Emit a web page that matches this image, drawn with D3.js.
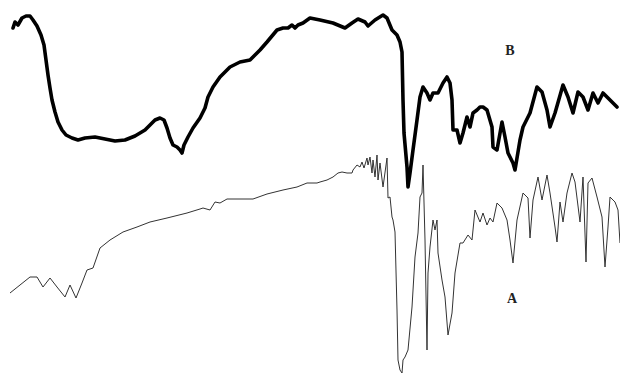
<!DOCTYPE html>
<html><head><meta charset="utf-8">
<script src="https://cdn.jsdelivr.net/npm/d3@7"></script>
<style>html,body{margin:0;padding:0;background:#fff;}svg{display:block;}</style>
</head><body>
<div id="chart"></div>
<script>
// Spectrum B (upper, thick): position and absorbance-like depth
const bX = [13,15,18,22,26,30,33,37,41,44,46,48,50,52,55,58,62,66,72,78,85,95,105,115,125,135,145,150,155,160,164,167,170,173,177,180,182,184,188,193,200,205,208,213,220,230,240,250,260,267,277,283,288,292,295,298,303,310,320,333,345,352,358,365,368,375,383,387,392,397,400,402,403,404,407,408,410,413,417,420,423,427,430,433,438,443,447,450,452,453,457,460,463,467,470,473,477,480,483,487,492,493,497,502,505,508,513,515,520,523,530,537,542,547,550,555,563,568,573,578,583,588,593,598,603,608,613,617];
const bY = [28,22,25,18,16,16,20,26,35,45,60,75,88,100,112,122,130,135,138,140,138,137,139,141,140,136,130,125,120,118,120,128,138,145,147,150,153,145,137,128,118,108,97,87,77,67,62,60,50,42,30,28,28,25,28,25,23,18,20,23,28,23,19,22,26,20,15,18,30,35,42,52,100,133,167,187,173,150,120,97,87,93,100,93,93,83,77,83,100,130,130,143,133,117,127,113,110,107,107,110,127,147,150,122,137,153,163,170,140,127,113,87,92,110,127,113,85,97,113,92,97,110,93,103,93,98,103,107];
// Spectrum A (lower, thin)
const aX = [10,20,30,37,43,50,57,65,70,76,82,87,93,100,110,123,137,150,167,187,200,203,210,215,220,227,240,253,267,283,297,307,317,320,327,333,338,342,347,352,353,357,360,362,364,367,368,370,372,373,375,377,378,380,383,387,388,390,392,393,395,397,398,400,402,403,405,408,412,415,418,420,422,423,425,427,428,430,433,435,437,438,442,445,448,452,455,460,463,468,472,475,480,483,487,490,493,497,502,507,510,513,517,523,528,530,533,538,542,547,550,555,557,560,563,567,572,575,580,583,586,588,592,597,602,605,608,610,615,618,620];
const aY = [293,285,277,277,287,278,287,297,285,298,283,270,268,248,240,232,227,222,218,213,209,208,210,202,203,199,199,199,194,190,187,183,183,182,180,177,173,172,173,173,170,165,167,162,168,158,165,157,173,160,177,155,180,163,187,158,198,197,217,220,232,310,360,370,373,360,357,350,307,257,233,197,193,165,240,350,273,247,220,230,220,253,280,297,335,313,273,243,243,235,240,210,222,213,225,218,222,203,208,220,240,263,220,193,198,238,200,177,200,175,193,227,242,202,222,193,173,182,222,177,262,183,178,197,217,267,227,197,202,210,243];
const labels = [{t:"B", x:510, y:50}, {t:"A", x:512, y:298}];

const W = 620, H = 379;
const svg = d3.select("#chart").append("svg").attr("width", W).attr("height", H);
const x = d3.scaleLinear().domain([0, 620]).range([0, W]);
const y = d3.scaleLinear().domain([0, 379]).range([0, H]);

const line = d3.line().x(d => x(d[0])).y(d => y(d[1]));
const bData = bX.map((v, i) => [v, bY[i]]);
const aData = aX.map((v, i) => [v, aY[i]]);

svg.append("path").datum(aData).attr("d", line)
  .attr("fill", "none").attr("stroke", "#333").attr("stroke-width", 1)
  .attr("stroke-linejoin", "round");
svg.append("path").datum(bData).attr("d", line)
  .attr("fill", "none").attr("stroke", "#000").attr("stroke-width", 3.6)
  .attr("stroke-linejoin", "round").attr("stroke-linecap", "round");

svg.selectAll("text.lbl").data(labels).enter().append("text")
  .attr("class", "lbl")
  .attr("x", d => x(d.x)).attr("y", d => y(d.y))
  .attr("text-anchor", "middle").attr("dominant-baseline", "central")
  .attr("font-family", "'Liberation Serif','DejaVu Serif',serif")
  .attr("font-weight", "bold").attr("font-size", 14)
  .attr("fill", "#222")
  .text(d => d.t);
</script>
</body></html>
